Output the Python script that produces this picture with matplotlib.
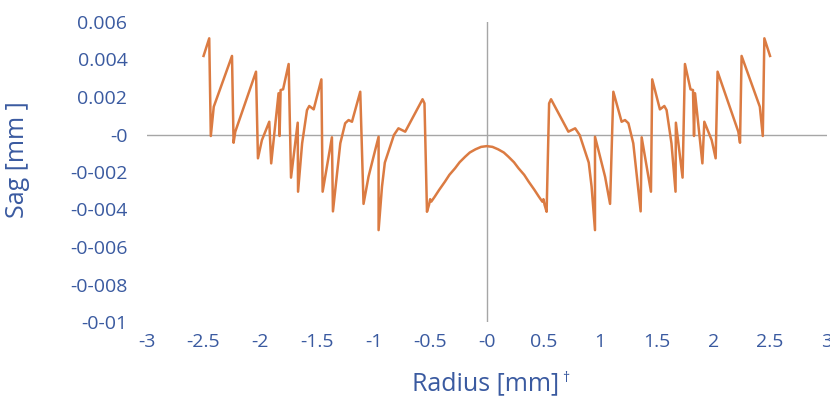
import numpy as np
import matplotlib
matplotlib.use("Agg")
from matplotlib import pyplot as plt

# sag profile, positive radius half (curve is mirror symmetric)
radius_pos = [0.0, 0.05, 0.1, 0.15, 0.19, 0.24, 0.28, 0.33, 0.37, 0.42, 0.46, 0.49, 0.5, 0.51, 0.528,
              0.55, 0.567,
              0.72, 0.78, 0.82, 0.9, 0.925, 0.955, 0.955, 0.985, 1.044, 1.088,
              1.117, 1.19, 1.22, 1.25, 1.293, 1.358, 1.367, 1.449, 1.46, 1.528,
              1.567, 1.587, 1.63, 1.666, 1.669, 1.728, 1.749, 1.798, 1.82, 1.829,
              1.838, 1.903, 1.92, 1.985, 2.02, 2.037, 2.22, 2.235, 2.249, 2.41,
              2.436, 2.45, 2.5]
sag_pos = [-0.00062, -0.00066, -0.00079, -0.00096, -0.00118, -0.00148, -0.0018, -0.00215, -0.00252, -0.00295,
           -0.00332, -0.00358, -0.00345, -0.00375, -0.00412,
           0.00166, 0.00188,
           0.00015, 0.00033, -0.00003, -0.0015, -0.00278, -0.0051, -0.00012, -0.00083, -0.00225, -0.0037,
           0.00228, 0.00068, 0.00077, 0.0006, -0.00047, -0.0041, -0.00015, -0.00305, 0.00294, 0.00134,
           0.00152, 0.0013, -0.00047, -0.00305, 0.00063, -0.0023, 0.00376, 0.00241, 0.00237, -0.00008,
           0.0022, -0.00154, 0.00068, -0.0003, -0.00127, 0.00335, 0.00015, -0.00044, 0.00419, 0.00148,
           -0.00008, 0.00513, 0.00419]

x_ticks = [-3, -2.5, -2, -1.5, -1, -0.5, 0, 0.5, 1, 1.5, 2, 2.5, 3]
x_labels = ["-3", "-2.5", "-2", "-1.5", "-1", "-0.5", "-0", "0.5", "1", "1.5", "2", "2.5", "3"]
y_ticks = [0.006, 0.004, 0.002, 0, -0.002, -0.004, -0.006, -0.008, -0.01]
y_labels = ["0.006", "0.004", "0.002", "-0", "-0-002", "-0-004", "-0-006", "-0-008", "-0-01"]

radius = np.concatenate([-np.array(radius_pos[:0:-1]), radius_pos])
sag = np.concatenate([np.array(sag_pos[:0:-1]), sag_pos])

blue = "#3A5AA0"
orange = "#DB7B42"

plt.rcParams['font.family'] = ['Open Sans', 'DejaVu Sans']

fig = plt.figure(figsize=(8.3, 4.0), dpi=100)
ax = fig.add_axes([0.177, 0.195, 0.819, 0.75])

ax.axhline(0, color="#A6A6A6", lw=1.0, zorder=1)
ax.axvline(0, color="#A6A6A6", lw=1.0, zorder=1)
ax.plot(radius, sag, color=orange, lw=1.8, zorder=3, solid_joinstyle='round')

ax.set_xlim(-3, 3)
ax.set_ylim(-0.01, 0.006)
for s in ax.spines.values():
    s.set_visible(False)

ax.set_xticks(x_ticks)
ax.set_xticklabels(x_labels)
ax.set_yticks(y_ticks)
ax.set_yticklabels(y_labels)
ax.tick_params(axis='both', length=0, labelsize=14, labelcolor=blue)
ax.tick_params(axis='x', pad=8)
ax.tick_params(axis='y', pad=14)

ax.set_xlabel("Radius [mm]", fontsize=18, color=blue)
ax.xaxis.set_label_coords(0.498, -0.165)
fig.text(0.677, 0.055, "\u2020", fontsize=10, color=blue, ha='left', va='center')
ax.set_ylabel("Sag [mm ]", fontsize=18, color=blue)
ax.yaxis.set_label_coords(-0.172, 0.54)

fig.savefig("out.png", dpi=100)
